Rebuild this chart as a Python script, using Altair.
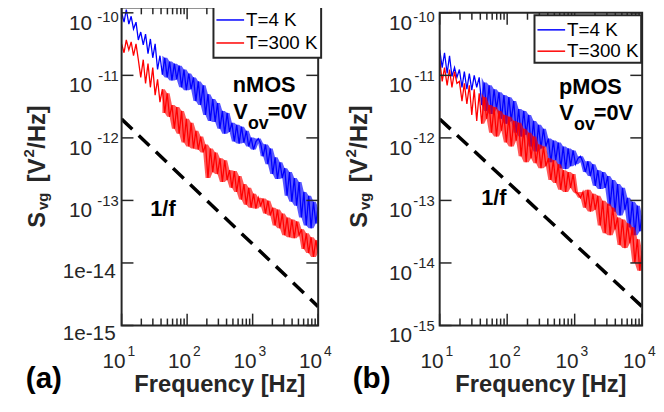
import math
import altair as alt
import pandas as pd

# ---------------- data ----------------
FREQ = [10, 10.9, 11.8, 12.9, 14.0, 15.2, 16.6, 18.0, 19.6, 21.4, 23.2, 25.3, 27.5, 29.9, 32.5,
        35.4, 38.5, 41.9, 45.6, 49.6, 54.0, 58.7, 63.9, 69.5, 75.6, 82.3, 89.5, 97.3, 106, 115,
        125, 136, 148, 161, 176, 191, 208, 226, 246, 268, 291, 317, 345, 375, 408, 444, 483, 525,
        571, 622, 676, 736, 800, 871, 947, 1031, 1121, 1220, 1327, 1444, 1571, 1709, 1859, 2023,
        2200, 2394, 2604, 2834, 3083, 3354, 3649, 3970, 4319, 4699, 5112, 5562, 6051, 6583, 7162,
        7792, 8477, 9222, 9950]

# (a) nMOS
BLUE_A = [1.02e-10, 7.08e-11, 1.13e-10, 6.59e-11, 8.81e-11, 5.5e-11, 7.08e-11, 3.68e-11, 4.93e-11, 3.07e-11,
          4.58e-11, 2.22e-11, 3.82e-11, 1.91e-11, 3.19e-11, 1.24e-11, 2.06e-11, 1.03e-11, 1.91e-11, 9.27e-12,
          1.66e-11, 8.3e-12, 1.54e-11, 8.62e-12, 1.43e-11, 6.44e-12, 1.24e-11, 5.8e-12, 1.07e-11, 6.0e-12,
          9.27e-12, 3.88e-12, 8.01e-12, 3.35e-12, 6.93e-12, 2.33e-12, 5.0e-12, 1.87e-12, 4.17e-12, 1.8e-12,
          3.61e-12, 1.40e-12, 2.70e-12, 1.17e-12, 2.51e-12, 1.25e-12, 1.74e-12, 8.75e-13, 1.62e-12, 8.1e-13,
          1.51e-12, 8.43e-13, 1.30e-12, 7.29e-13, 1.01e-12, 6.5e-13, 8.75e-13, 9.75e-13, 8.1e-13, 5.07e-13,
          7.84e-13, 3.79e-13, 6.78e-13, 2.64e-13, 4.9e-13, 2.2e-13, 4.08e-13, 2.28e-13, 3.28e-13, 1.19e-13,
          2.84e-13, 9.53e-14, 2.28e-13, 8.25e-14, 1.97e-13, 5.34e-14, 1.37e-13, 3.99e-14, 1.19e-13, 3.58e-14,
          9.53e-14, 4.29e-14, 7.67e-14]
RED_A = [3.19e-11, 2.3e-11, 3.68e-11, 2.56e-11, 3.42e-11, 2.06e-11, 3.19e-11, 1.78e-11, 9.27e-12, 1.78e-11,
         7.45e-12, 1.54e-11, 6.44e-12, 1.33e-11, 4.82e-12, 8.62e-12, 3.74e-12, 6.0e-12, 2.51e-12, 5.18e-12,
         2.17e-12, 3.35e-12, 1.40e-12, 3.12e-12, 1.17e-12, 2.70e-12, 8.43e-13, 2.02e-12, 7.29e-13, 1.74e-12,
         6.78e-13, 1.30e-12, 6.5e-13, 1.05e-12, 5.86e-13, 7.84e-13, 2.28e-13, 6.78e-13, 2.84e-13, 5.86e-13,
         2.64e-13, 4.72e-13, 1.97e-13, 4.39e-13, 2.12e-13, 3.05e-13, 1.59e-13, 2.95e-13, 1.37e-13, 2.45e-13,
         1.03e-13, 1.83e-13, 8.55e-14, 1.59e-13, 7.67e-14, 1.28e-13, 7.4e-14, 1.10e-13, 8.25e-14, 1.07e-13,
         6.17e-14, 9.9e-14, 5.74e-14, 7.67e-14, 3.99e-14, 7.13e-14, 3.58e-14, 6.17e-14, 2.77e-14, 5.34e-14,
         2.58e-14, 4.96e-14, 2.49e-14, 4.61e-14, 2.77e-14, 3.45e-14, 1.67e-14, 2.98e-14, 1.44e-14, 2.58e-14,
         1.25e-14, 2.31e-14, 1.44e-14]

# (b) pMOS
BLUE_B = [2.56e-11, 1.33e-11, 2.3e-11, 1.07e-11, 2.06e-11, 9.6e-12, 1.33e-11, 9.27e-12, 1.24e-11, 6.44e-12,
          1.15e-11, 6.0e-12, 1.07e-11, 5.8e-12, 9.96e-12, 6.44e-12, 9.27e-12, 3.35e-12, 7.7e-12, 2.70e-12,
          6.93e-12, 2.42e-12, 6.0e-12, 2.90e-12, 5.37e-12, 2.02e-12, 4.82e-12, 1.68e-12, 4.48e-12, 1.87e-12,
          3.88e-12, 1.21e-12, 2.90e-12, 1.05e-12, 2.70e-12, 1.13e-12, 2.33e-12, 7.29e-13, 1.87e-12, 6.08e-13,
          1.62e-12, 6.78e-13, 1.40e-12, 7.29e-13, 9.75e-13, 4.08e-13, 9.06e-13, 4.39e-13, 8.43e-13, 3.28e-13,
          7.29e-13, 3.17e-13, 6.78e-13, 3.53e-13, 6.31e-13, 3.79e-13, 4.72e-13, 5.07e-13, 4.08e-13, 2.84e-13,
          4.23e-13, 2.45e-13, 3.79e-13, 1.71e-13, 3.05e-13, 1.53e-13, 2.84e-13, 1.59e-13, 2.45e-13, 8.25e-14,
          2.12e-13, 6.63e-14, 1.83e-13, 5.74e-14, 1.59e-13, 7.13e-14, 1.10e-13, 3.71e-14, 9.53e-14, 2.77e-14,
          8.25e-14, 3.21e-14, 5.74e-14]
RED_B = [1.78e-11, 8.01e-12, 1.33e-11, 6.93e-12, 1.24e-11, 6.44e-12, 1.15e-11, 7.45e-12, 8.01e-12, 3.88e-12,
         7.45e-12, 3.48e-12, 6.93e-12, 2.33e-12, 6.0e-12, 1.87e-12, 5.18e-12, 1.68e-12, 4.48e-12, 2.02e-12,
         3.35e-12, 1.21e-12, 3.12e-12, 1.05e-12, 2.70e-12, 1.30e-12, 2.33e-12, 8.43e-13, 2.17e-12, 7.29e-13,
         1.87e-12, 9.06e-13, 1.74e-12, 5.07e-13, 1.40e-12, 4.08e-13, 1.21e-12, 4.72e-13, 1.05e-12, 3.94e-13,
         7.84e-13, 3.28e-13, 7.29e-13, 3.53e-13, 4.72e-13, 2.12e-13, 4.39e-13, 1.9e-13, 3.79e-13, 1.48e-13,
         3.05e-13, 1.37e-13, 2.84e-13, 1.59e-13, 2.64e-13, 1.37e-13, 1.28e-13, 1.10e-13, 1.37e-13, 7.67e-14,
         1.48e-13, 6.63e-14, 1.28e-13, 7.13e-14, 1.19e-13, 3.99e-14, 9.9e-14, 2.98e-14, 8.87e-14, 2.77e-14,
         7.67e-14, 3.45e-14, 5.34e-14, 1.93e-14, 4.96e-14, 1.73e-14, 4.29e-14, 2.07e-14, 3.71e-14, 1.0e-14,
         2.40e-14, 7.51e-15, 1.55e-14]

SERIES = ["T=4 K", "T=300 K"]
COLORS = ["#0000FF", "#FF0000"]
FIT_F = [10, 10000]
FIT_S = [2e-12, 2e-15]

X_MAJOR = [10, 100, 1000, 10000]
X_EXP = ["1", "2", "3", "4"]
X_MINOR = [m * 10 ** k for k in (1, 2, 3) for m in range(2, 10)]
Y_MAJOR = [1e-10, 1e-11, 1e-12, 1e-13, 1e-14, 1e-15]
Y_EXP = ["-10", "-11", "-12", "-13", "-14", "-15"]
A_PLAIN = ["1e-14", "1e-15"]

for arr in (BLUE_A, RED_A, BLUE_B, RED_B):
    assert len(arr) == len(FREQ)

# ---------------- layout ----------------
H = 322
W_A, W_B = 199, 205
Y_DOMAIN = [1e-15, 1.22e-10]
X_DOMAIN = [10, 10000]
FONT = "Liberation Sans"
AXC = "#262626"
BAND_FROM = 40  # Hz: where the spectra become a dense noise band


def ypix(v):
    lo, hi = math.log10(Y_DOMAIN[0]), math.log10(Y_DOMAIN[1])
    return H * (hi - math.log10(v)) / (hi - lo)


XS = alt.Scale(type="log", domain=X_DOMAIN, nice=False)
YS = alt.Scale(type="log", domain=Y_DOMAIN, nice=False)
ONE = pd.DataFrame({"k": [0]})


def X(field):
    return alt.X(field, type="quantitative", scale=XS, axis=None)


def Y(field):
    return alt.Y(field, type="quantitative", scale=YS, axis=None)


def ptext(s, x, y, size, bold=True, align="left", angle=0, baseline="alphabetic", color="black"):
    props = dict(align=align, baseline=baseline, fontSize=size, font=FONT, color=color,
                 fontWeight="bold" if bold else "normal")
    if angle:
        props["angle"] = angle
    return alt.Chart(ONE).mark_text(**props).encode(x=alt.value(x), y=alt.value(y), text=alt.value(s))


def spectrum(values, color):
    df = pd.DataFrame({"f": FREQ, "s": values})
    band = alt.Chart(df).transform_window(
        hi="max(s)", lo="min(s)", frame=[-1, 1], sort=[alt.SortField("f")]
    ).transform_filter(alt.datum.f >= BAND_FROM).mark_area(
        color=color, opacity=0.65, clip=True
    ).encode(x=X("f"), y=alt.Y("lo:Q", scale=YS, axis=None), y2="hi:Q")
    line = alt.Chart(df).mark_line(color=color, strokeWidth=1.3, clip=True).encode(x=X("f"), y=Y("s"))
    return [band, line]


def panel(W, blue, red, plain, box_top, leg, mos, mos_at, v_at, onef_at, tag, tag_x, yt_x, ylx):
    L = []
    L += spectrum(blue, COLORS[0])
    L += spectrum(red, COLORS[1])
    L.append(alt.Chart(pd.DataFrame({"f": FIT_F, "s": FIT_S})).mark_line(
        color="black", strokeWidth=3.5, strokeDash=[15, 9], clip=True).encode(x=X("f"), y=Y("s")))
    # frame
    L.append(alt.Chart(ONE).mark_rect(fillOpacity=0, stroke=AXC, strokeWidth=2).encode(
        x=alt.value(0), x2=alt.value(W), y=alt.value(box_top), y2=alt.value(H)))
    # inward ticks
    for vals, ln in ((X_MAJOR, 12), (X_MINOR, 7)):
        d = pd.DataFrame({"t": vals})
        L.append(alt.Chart(d).mark_rule(color=AXC, strokeWidth=1.5).encode(
            x=X("t"), y=alt.value(H - ln), y2=alt.value(H)))
        L.append(alt.Chart(d).mark_rule(color=AXC, strokeWidth=1.5).encode(
            x=X("t"), y=alt.value(box_top), y2=alt.value(box_top + ln)))
    d = pd.DataFrame({"t": Y_MAJOR})
    L.append(alt.Chart(d).mark_rule(color=AXC, strokeWidth=1.5).encode(
        y=Y("t"), x=alt.value(0), x2=alt.value(12)))
    L.append(alt.Chart(d).mark_rule(color=AXC, strokeWidth=1.5).encode(
        y=Y("t"), x=alt.value(W - 12), x2=alt.value(W)))
    # x tick labels 10^n
    xl = pd.DataFrame({"t": X_MAJOR, "e": X_EXP})
    L.append(alt.Chart(xl).mark_text(align="right", dx=4, fontSize=21, font=FONT, color=AXC).encode(
        x=X("t"), y=alt.value(H + 37), text=alt.value("10")))
    L.append(alt.Chart(xl).mark_text(align="left", dx=6, fontSize=14, font=FONT, color=AXC).encode(
        x=X("t"), y=alt.value(H + 27), text=alt.Text("e:N")))
    # y tick labels
    nsup = len(Y_MAJOR) - len(plain)
    sup = pd.DataFrame({"t": Y_MAJOR[:nsup], "e": Y_EXP[:nsup]})
    L.append(alt.Chart(sup).mark_text(align="right", dy=11, fontSize=21, font=FONT, color=AXC).encode(
        x=alt.value(ylx[0]), y=Y("t"), text=alt.value("10")))
    L.append(alt.Chart(sup.iloc[:1]).mark_text(align="right", dy=4, fontSize=15, font=FONT, color=AXC).encode(
        x=alt.value(ylx[1]), y=Y("t"), text=alt.Text("e:N")))
    L.append(alt.Chart(sup.iloc[1:]).mark_text(align="right", dy=0.5, fontSize=15, font=FONT, color=AXC).encode(
        x=alt.value(ylx[1]), y=Y("t"), text=alt.Text("e:N")))
    if plain:
        pl = pd.DataFrame({"t": Y_MAJOR[nsup:], "p": plain})
        L.append(alt.Chart(pl).mark_text(align="right", dy=9, fontSize=21, font=FONT, color=AXC).encode(
            x=alt.value(-6), y=Y("t"), text=alt.Text("p:N")))
    # annotations
    a = pd.DataFrame({"f": [mos_at[0]], "s": [mos_at[1]], "t": [mos]})
    L.append(alt.Chart(a).mark_text(align="center", fontSize=22, fontWeight="bold", font=FONT, color="black")
             .encode(x=X("f"), y=Y("s"), text=alt.Text("t:N")))
    v = pd.DataFrame({"f": [v_at[0]], "s": [v_at[1]]})
    for s, dx, dy, fs in (("V", 0, 0, 22), ("ov", 15, 12, 18), ("=0V", 35, 0, 22)):
        L.append(alt.Chart(v).mark_text(align="left", dx=dx, dy=dy, fontSize=fs, fontWeight="bold",
                                        font=FONT, color="black")
                 .encode(x=X("f"), y=Y("s"), text=alt.value(s)))
    o = pd.DataFrame({"f": [onef_at[0]], "s": [onef_at[1]]})
    L.append(alt.Chart(o).mark_text(align="left", fontSize=22, fontWeight="bold", font=FONT, color="black")
             .encode(x=X("f"), y=Y("s"), text=alt.value("1/f")))
    # legend
    lx0, lx1, ly0, ly1, ya, yb = leg
    L.append(alt.Chart(ONE).mark_rect(fill="white", stroke=AXC, strokeWidth=2).encode(
        x=alt.value(lx0), x2=alt.value(lx1), y=alt.value(ly0), y2=alt.value(ly1)))
    for name, col, yy in ((SERIES[0], COLORS[0], ya), (SERIES[1], COLORS[1], yb)):
        L.append(alt.Chart(ONE).mark_rule(color=col, strokeWidth=1.5).encode(
            x=alt.value(lx0 + 3), x2=alt.value(lx0 + 31), y=alt.value(yy)))
        L.append(ptext(name, lx0 + 33, yy, 19, bold=False, baseline="middle"))
    # titles
    L.append(ptext("Frequency [Hz]", W / 2, H + 67, 24, align="center", color=AXC))
    L.append(ptext(tag, tag_x, H + 63, 30))
    for s, dx, ystart, fs in (("S", 0, 223, 24), ("vg", 3, 205, 15), ("[V", 0, 177, 24),
                              ("2", -11, 152, 15), ("/Hz]", 0, 143, 24)):
        L.append(ptext(s, yt_x + dx, ystart, fs, angle=270, color=AXC))
    return alt.layer(*L).properties(width=W, height=H)


pa = panel(W_A, BLUE_A, RED_A, A_PLAIN, 0,
           (93, 202, -1, 51, 12.7, 36), "nMOS", (1500, 6.93e-12), (504, 2.6e-12), (27.4, 7.4e-14),
           "(a)", -97, -78, (-30, -3))
pb = panel(W_B, BLUE_B, RED_B, [], ypix(1e-10),
           (96, 204, 8, 56, 22.7, 44.3), "pMOS", (1710, 6.56e-12), (591, 2.46e-12), (41.2, 1.08e-13),
           "(b)", -88, -74, (-28, -5))

chart = alt.hconcat(pa, pb, spacing=123, bounds="flush").properties(
    padding={"left": 14, "top": -5, "right": 0, "bottom": 0}
).configure_view(stroke=None)

chart.save("out.html", embed_options={"renderer": "svg", "actions": False})
